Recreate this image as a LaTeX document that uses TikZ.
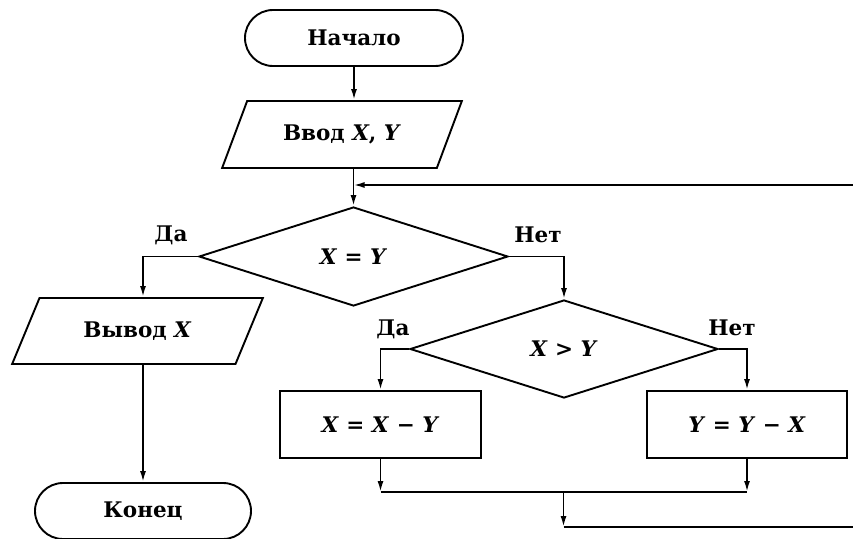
\documentclass[tikz,border=0pt]{standalone}
\usepackage{fontspec}
\setmainfont{DejaVu Serif}
\usetikzlibrary{shapes.geometric,shapes.misc,arrows.meta,calc}
\begin{document}
\begin{tikzpicture}[x=1pt,y=-1pt,line width=1.9pt,
  >={Latex[length=11pt,width=6pt]},
  every node/.style={font=\fontsize{21.5}{25}\selectfont\bfseries,inner sep=0pt},
  term/.style={draw,rounded rectangle,minimum height=56pt},
  io/.style={draw,trapezium,trapezium left angle=51,trapezium right angle=129,trapezium stretches=true},
  dec/.style={draw,diamond},
  proc/.style={draw,rectangle}]
\useasboundingbox (0,0) rectangle (853,538);
\node[term,minimum width=218pt] (start) at (354,38) {Начало};
\node[io,minimum width=240pt,minimum height=67pt] (in) at (342,134.5) {Ввод \textit{X}, \textit{Y}};
\node[dec,minimum width=309pt,minimum height=99pt] (d1) at (353.5,256.5) {\textit{X} = \textit{Y}};
\node[io,minimum width=251pt,minimum height=66pt] (out) at (137.5,331) {Вывод \textit{X}};
\node[dec,minimum width=308pt,minimum height=98pt] (d2) at (564,349) {\textit{X} > \textit{Y}};
\node[proc,minimum width=201pt,minimum height=67pt] (b1) at (380.5,424.5) {\textit{X} = \textit{X} − \textit{Y}};
\node[proc,minimum width=200pt,minimum height=67pt] (b2) at (747,424.5) {\textit{Y} = \textit{Y} − \textit{X}};
\node[term,minimum width=216pt] (end) at (143,511) {Конец};
\node (l1) at (171,235) {Да};
\node (l2) at (538,235) {Нет};
\node (l3) at (393,329) {Да};
\node (l4) at (732,328) {Нет};
\coordinate (rtop) at (853,185);
\coordinate (join) at (563.5,492);
\coordinate (rbot) at (853,527);
\draw[->] (start.south) -- (start.south |- in.north);
\draw[->] (d1.north |- in.south) -- (d1.north);
\draw[->] (rtop) -- (d1.north |- rtop);
\draw[->] (d1.west) -| (end.north |- out.north);
\draw[->] (end.north |- out.south) -- (end.north);
\draw[->] (d1.east) -| (d2.north);
\draw[->] (d2.west) -| (b1.north);
\draw[->] (d2.east) -| (b2.north);
\draw[->] (b1.south) -- (b1.south |- join);
\draw[->] (b2.south) -- (b2.south |- join);
\draw (b1.south |- join) -- (b2.south |- join);
\draw[->] (join) -- (join |- rbot);
\draw (join |- rbot) -- (rbot);
\end{tikzpicture}
\end{document}
